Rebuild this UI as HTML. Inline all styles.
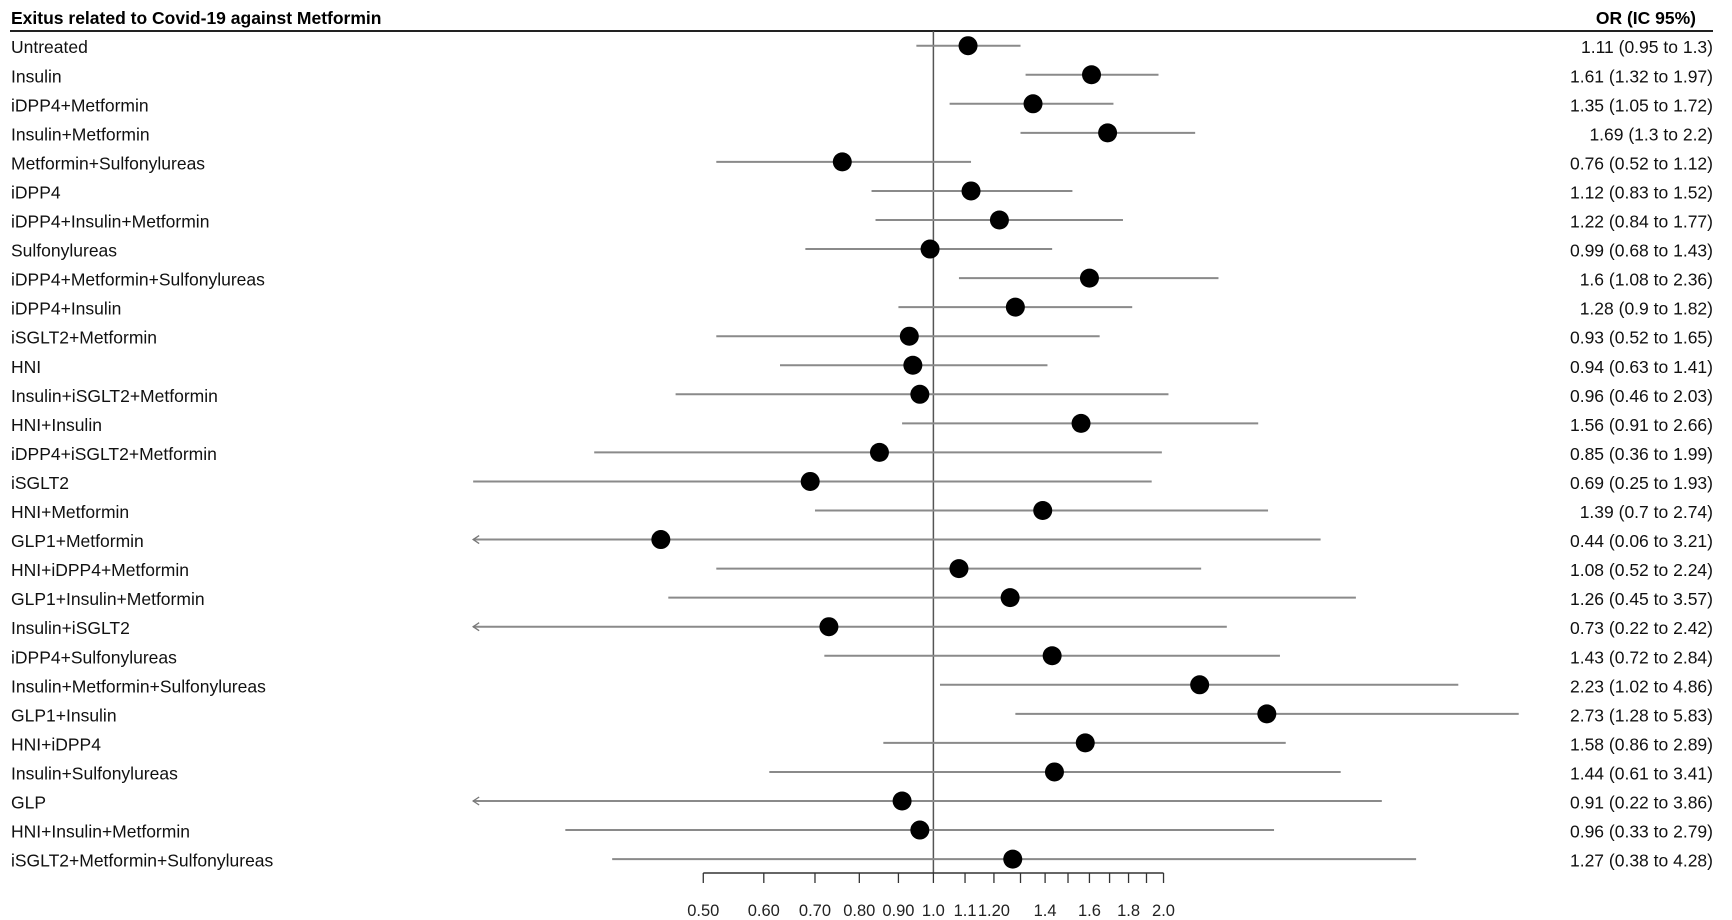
<!DOCTYPE html>
<html><head><meta charset="utf-8"><style>
html,body{margin:0;padding:0;background:#fff;}
svg{display:block;font-family:"Liberation Sans",Arial,sans-serif;}
</style></head><body>
<svg id="chart" width="1732" height="920" viewBox="0 0 1732 920" xmlns="http://www.w3.org/2000/svg">
<text x="11" y="24" font-size="17.5" font-weight="bold" fill="#000">Exitus related to Covid-19 against Metformin</text>
<text x="1696" y="24" font-size="17.5" font-weight="bold" text-anchor="end" fill="#000">OR (IC 95%)</text>
<line x1="10" y1="31" x2="1713" y2="31" stroke="#222" stroke-width="2"/>
<g id="marks"></g>
</svg>
<script>
const categories = ["Untreated","Insulin","iDPP4+Metformin","Insulin+Metformin","Metformin+Sulfonylureas","iDPP4","iDPP4+Insulin+Metformin","Sulfonylureas","iDPP4+Metformin+Sulfonylureas","iDPP4+Insulin","iSGLT2+Metformin","HNI","Insulin+iSGLT2+Metformin","HNI+Insulin","iDPP4+iSGLT2+Metformin","iSGLT2","HNI+Metformin","GLP1+Metformin","HNI+iDPP4+Metformin","GLP1+Insulin+Metformin","Insulin+iSGLT2","iDPP4+Sulfonylureas","Insulin+Metformin+Sulfonylureas","GLP1+Insulin","HNI+iDPP4","Insulin+Sulfonylureas","GLP","HNI+Insulin+Metformin","iSGLT2+Metformin+Sulfonylureas"];
const orValues = [1.11,1.61,1.35,1.69,0.76,1.12,1.22,0.99,1.6,1.28,0.93,0.94,0.96,1.56,0.85,0.69,1.39,0.44,1.08,1.26,0.73,1.43,2.23,2.73,1.58,1.44,0.91,0.96,1.27];
const lowerValues = [0.95,1.32,1.05,1.3,0.52,0.83,0.84,0.68,1.08,0.9,0.52,0.63,0.46,0.91,0.36,0.25,0.7,0.06,0.52,0.45,0.22,0.72,1.02,1.28,0.86,0.61,0.22,0.33,0.38];
const upperValues = [1.3,1.97,1.72,2.2,1.12,1.52,1.77,1.43,2.36,1.82,1.65,1.41,2.03,2.66,1.99,1.93,2.74,3.21,2.24,3.57,2.42,2.84,4.86,5.83,2.89,3.41,3.86,2.79,4.28];
const ciLabels = ["1.11 (0.95 to 1.3)","1.61 (1.32 to 1.97)","1.35 (1.05 to 1.72)","1.69 (1.3 to 2.2)","0.76 (0.52 to 1.12)","1.12 (0.83 to 1.52)","1.22 (0.84 to 1.77)","0.99 (0.68 to 1.43)","1.6 (1.08 to 2.36)","1.28 (0.9 to 1.82)","0.93 (0.52 to 1.65)","0.94 (0.63 to 1.41)","0.96 (0.46 to 2.03)","1.56 (0.91 to 2.66)","0.85 (0.36 to 1.99)","0.69 (0.25 to 1.93)","1.39 (0.7 to 2.74)","0.44 (0.06 to 3.21)","1.08 (0.52 to 2.24)","1.26 (0.45 to 3.57)","0.73 (0.22 to 2.42)","1.43 (0.72 to 2.84)","2.23 (1.02 to 4.86)","2.73 (1.28 to 5.83)","1.58 (0.86 to 2.89)","1.44 (0.61 to 3.41)","0.91 (0.22 to 3.86)","0.96 (0.33 to 2.79)","1.27 (0.38 to 4.28)"];
const tickValues = [0.5,0.6,0.7,0.8,0.9,1.0,1.1,1.2,1.3,1.4,1.5,1.6,1.7,1.8,1.9,2.0];
const tickLabelValues = [0.5,0.6,0.7,0.8,0.9,1.0,1.1,1.2,1.4,1.6,1.8,2.0];
const tickLabels = ["0.50","0.60","0.70","0.80","0.90","1.0","1.1","1.20","1.4","1.6","1.8","2.0"];

const NS="http://www.w3.org/2000/svg";
const g=document.getElementById('marks');
const X0=933.4, PX=332, CLIP=0.25;
function xScale(v){return X0+PX*Math.log(v);}
function yScale(i){return 45.7+i*29.05;}
function mk(tag,attrs){const e=document.createElementNS(NS,tag);for(const k in attrs)e.setAttribute(k,attrs[k]);g.appendChild(e);return e;}

// reference line
let ref=mk('line',{x1:xScale(1),y1:31,x2:xScale(1),y2:873,stroke:'#555','stroke-width':1.5});


// axis
const axY=873;
let ax=mk('line',{x1:xScale(tickValues[0]),y1:axY,x2:xScale(tickValues[tickValues.length-1]),y2:axY,stroke:'#333','stroke-width':1.5});


tickValues.forEach(v=>{
  const t=mk('line',{x1:xScale(v),y1:axY,x2:xScale(v),y2:axY+10,stroke:'#333','stroke-width':1.3});
  
  
});
tickLabelValues.forEach((v,i)=>{
  const t=mk('text',{x:xScale(v),y:916,'font-size':16.5,'text-anchor':'middle',fill:'#222'});
  t.textContent=tickLabels[i];
  
  
});

categories.forEach((c,i)=>{
  const y=yScale(i);
  const lab=mk('text',{x:11,y:y+7.5,'font-size':17.5,fill:'#111'});
  lab.textContent=c;
  
  
  const val=mk('text',{x:1713,y:y+7.5,'font-size':17.5,'text-anchor':'end',fill:'#111'});
  val.textContent=ciLabels[i];
  
  
  const lo=Math.max(lowerValues[i],CLIP);
  const x1=xScale(lo), x2=xScale(upperValues[i]);
  const ci=mk('line',{x1:x1,y1:y,x2:x2,y2:y,stroke:'#8a8a8a','stroke-width':2});
  
  
  if(lowerValues[i]<CLIP){
    const ar=mk('path',{d:`M${x1+6},${y-4} L${x1},${y} L${x1+6},${y+4}`,fill:'none',stroke:'#777','stroke-width':1.3});
    
    
  }
  const d=mk('ellipse',{cx:xScale(orValues[i]),cy:y,rx:9.5,ry:9.5,fill:'#000'});
  
  
});
</script>
</body></html>
